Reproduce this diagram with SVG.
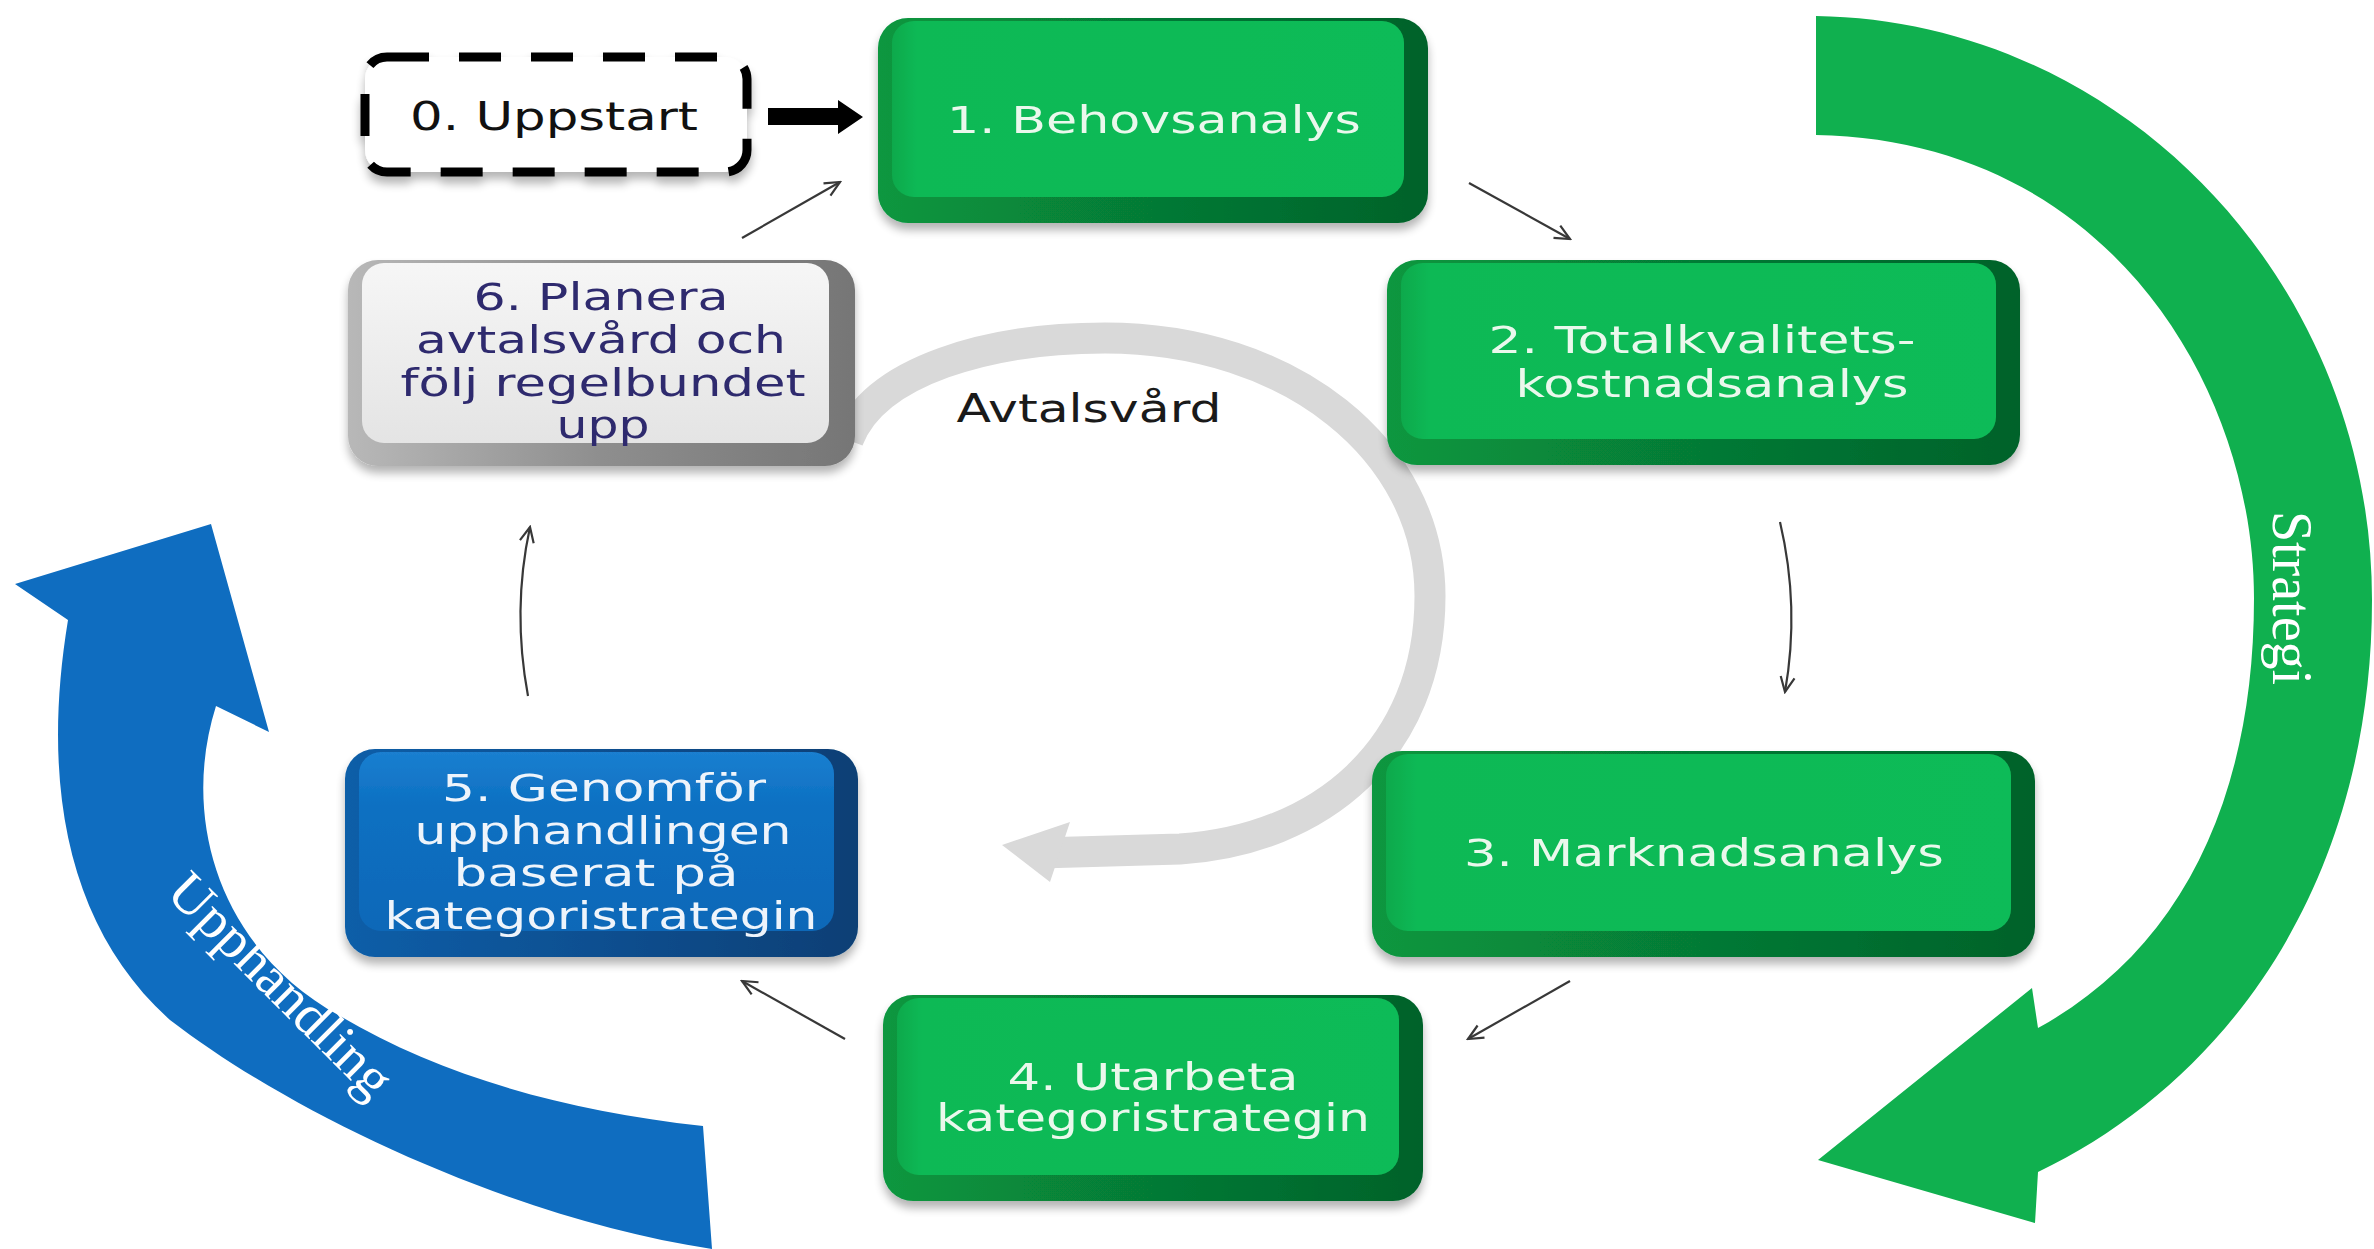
<svg xmlns="http://www.w3.org/2000/svg" width="2374" height="1249" viewBox="0 0 2374 1249">
<defs>
<style>
.t{font-family:"DejaVu Sans","Verdana",sans-serif;text-anchor:middle}
.tg{fill:#eaf8ec;font-size:37px}
.tb{fill:#eef4fb;font-size:37px}
.tn{fill:#2f2b6e;font-size:37px}
.lab{font-family:"Liberation Serif","Times New Roman",serif;fill:#ffffff;font-size:56px;text-anchor:middle}
.conn{fill:none;stroke:#383838;stroke-width:2.2;marker-end:url(#open)}
</style>
<marker id="open" viewBox="0 0 20 20" refX="18" refY="10" markerWidth="20" markerHeight="20" markerUnits="userSpaceOnUse" orient="auto">
<path d="M3 3 L18 10 L3 17" fill="none" stroke="#383838" stroke-width="2.2"/>
</marker>
<filter id="sh" x="-10%" y="-10%" width="120%" height="130%">
<feGaussianBlur in="SourceAlpha" stdDeviation="5"/>
<feOffset dx="0" dy="7" result="b"/>
<feComponentTransfer><feFuncA type="linear" slope="0.3"/></feComponentTransfer>
<feMerge><feMergeNode/><feMergeNode in="SourceGraphic"/></feMerge>
</filter>
<linearGradient id="gOut" x1="0" y1="0" x2="1" y2="0">
<stop offset="0" stop-color="#08973f"/><stop offset="0.5" stop-color="#067a35"/><stop offset="1" stop-color="#04622a"/>
</linearGradient>
<linearGradient id="gFace" x1="0" y1="0" x2="1" y2="0">
<stop offset="0" stop-color="#08a94c"/><stop offset="0.05" stop-color="#09b955"/><stop offset="1" stop-color="#0bbb58"/>
</linearGradient>
<linearGradient id="bOut" x1="0" y1="0" x2="1" y2="0">
<stop offset="0" stop-color="#0b5ea8"/><stop offset="0.5" stop-color="#0a4f90"/><stop offset="1" stop-color="#083f75"/>
</linearGradient>
<linearGradient id="bFace" x1="0" y1="0" x2="0" y2="1">
<stop offset="0" stop-color="#1a7fd0"/><stop offset="0.3" stop-color="#0d70c2"/><stop offset="1" stop-color="#0b68b8"/>
</linearGradient>
<linearGradient id="sOut" x1="0" y1="0" x2="1" y2="0">
<stop offset="0" stop-color="#b8b8b8"/><stop offset="0.5" stop-color="#8e8e8e"/><stop offset="1" stop-color="#767676"/>
</linearGradient>
<linearGradient id="sFace" x1="0" y1="0" x2="0" y2="1">
<stop offset="0" stop-color="#f6f6f6"/><stop offset="1" stop-color="#e4e4e4"/>
</linearGradient>
</defs>
<rect width="2374" height="1249" fill="#ffffff"/>

<g id="strategi-arrow">
<path d="M1816 16 C2120 20 2372 280 2372 600 C2372 880 2230 1080 2038 1172 L2035 1223 L1818 1160 L2032 988 L2038 1028 C2180 950 2254 800 2254 598 C2254 390 2110 140 1816 135 Z" fill="#10b04f"/>
<text class="lab" transform="translate(2273 598) rotate(90)">Strategi</text>
</g>

<g id="upphandling-arrow">
<path d="M15 584 L211 524 L269 732 L216 706 C180 820 220 950 340 1016 C440 1075 560 1110 703 1126 L712 1249 C520 1220 300 1120 170 1020 C70 930 40 790 68 620 Z" fill="#0f6dc0"/>
<text class="lab" transform="translate(268 998) rotate(45)">Upphandling</text>
</g>

<g id="avtalsvard">
<path d="M848 440 C875 370 990 338 1105 338 C1290 338 1430 450 1430 596 C1430 750 1320 840 1180 849 L1040 853" fill="none" stroke="#d9d9d9" stroke-width="31"/>
<path d="M1002 845 L1070 822 L1050 882 Z" fill="#d9d9d9"/>
<text class="t" x="1089" y="422" font-size="39" fill="#1a1a1a" textLength="265" lengthAdjust="spacingAndGlyphs">Avtalsvård</text>
</g>

<g id="connectors">
<path d="M768 108 L838 108 L838 100 L863 117 L838 134 L838 125 L768 125 Z" fill="#000000"/>
<path class="conn" d="M742 238 L840 182"/>
<path class="conn" d="M1469 183 L1570 239"/>
<path class="conn" d="M1780 522 Q1800 607 1785 692"/>
<path class="conn" d="M1570 981 L1468 1039"/>
<path class="conn" d="M845 1039 L742 981"/>
<path class="conn" d="M528 696 Q512 610 530 527"/>
</g>

<g id="node0" transform="translate(365 57)">
<rect x="0" y="0" width="382" height="115" rx="22" fill="#ffffff" stroke="#000000" stroke-width="9" stroke-dasharray="42 30" filter="url(#sh)"/>
<text class="t" x="189" y="73" font-size="39" fill="#111111" textLength="288" lengthAdjust="spacingAndGlyphs">0. Uppstart</text>
</g>

<g id="node1" transform="translate(878 18)" filter="url(#sh)">
<rect width="550" height="205" rx="30" fill="url(#gOut)"/>
<rect x="14" y="3" width="512" height="176" rx="22" fill="url(#gFace)"/>
<text class="t tg" x="276" y="115" font-size="39" textLength="414" lengthAdjust="spacingAndGlyphs">1. Behovsanalys</text>
</g>

<g id="node2" transform="translate(1387 260)" filter="url(#sh)">
<rect width="633" height="205" rx="30" fill="url(#gOut)"/>
<rect x="14" y="3" width="595" height="176" rx="22" fill="url(#gFace)"/>
<text class="t tg" x="315" y="93" textLength="427" lengthAdjust="spacingAndGlyphs">2. Totalkvalitets-</text>
<text class="t tg" x="325" y="137" textLength="393" lengthAdjust="spacingAndGlyphs">kostnadsanalys</text>
</g>

<g id="node3" transform="translate(1372 751)" filter="url(#sh)">
<rect width="663" height="206" rx="30" fill="url(#gOut)"/>
<rect x="14" y="3" width="625" height="177" rx="22" fill="url(#gFace)"/>
<text class="t tg" x="332" y="115" textLength="480" lengthAdjust="spacingAndGlyphs">3. Marknadsanalys</text>
</g>

<g id="node4" transform="translate(883 995)" filter="url(#sh)">
<rect width="540" height="206" rx="30" fill="url(#gOut)"/>
<rect x="14" y="3" width="502" height="177" rx="22" fill="url(#gFace)"/>
<text class="t tg" x="270" y="95" textLength="291" lengthAdjust="spacingAndGlyphs">4. Utarbeta</text>
<text class="t tg" x="270" y="136" textLength="434" lengthAdjust="spacingAndGlyphs">kategoristrategin</text>
</g>

<g id="node5" transform="translate(345 749)" filter="url(#sh)">
<rect width="513" height="208" rx="30" fill="url(#bOut)"/>
<rect x="14" y="3" width="475" height="179" rx="22" fill="url(#bFace)"/>
<text class="t tb" x="259" y="52" textLength="324" lengthAdjust="spacingAndGlyphs">5. Genomför</text>
<text class="t tb" x="258" y="95" textLength="377" lengthAdjust="spacingAndGlyphs">upphandlingen</text>
<text class="t tb" x="251" y="137" textLength="285" lengthAdjust="spacingAndGlyphs">baserat på</text>
<text class="t tb" x="256" y="180" textLength="433" lengthAdjust="spacingAndGlyphs">kategoristrategin</text>
</g>

<g id="node6" transform="translate(348 260)" filter="url(#sh)">
<rect width="507" height="206" rx="30" fill="url(#sOut)"/>
<rect x="14" y="3" width="467" height="180" rx="22" fill="url(#sFace)"/>
<text class="t tn" x="253" y="50" textLength="255" lengthAdjust="spacingAndGlyphs">6. Planera</text>
<text class="t tn" x="253" y="93" textLength="370" lengthAdjust="spacingAndGlyphs">avtalsvård och</text>
<text class="t tn" x="255" y="136" textLength="405" lengthAdjust="spacingAndGlyphs">följ regelbundet</text>
<text class="t tn" x="255" y="178" textLength="93" lengthAdjust="spacingAndGlyphs">upp</text>
</g>
</svg>
